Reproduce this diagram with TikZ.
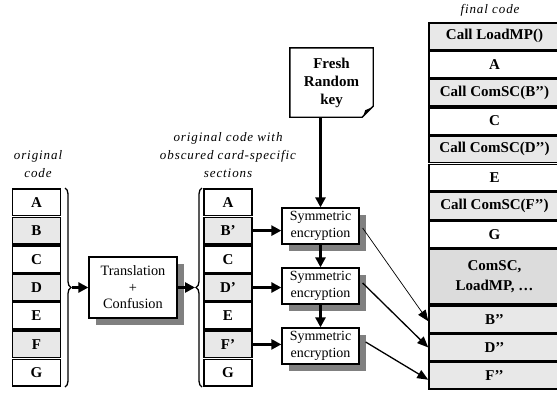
\documentclass[tikz,border=0pt]{standalone}
\usepackage{fontspec}
\setmainfont{Liberation Serif}
\newfontfamily\hdr[LetterSpace=7]{Liberation Serif}
\usetikzlibrary{arrows.meta,decorations.pathreplacing,shadows,calc}
\definecolor{cellgray}{HTML}{E8E8E8}
\definecolor{blockgray}{HTML}{DCDCDC}
\definecolor{shgray}{HTML}{808080}
\begin{document}
\begin{tikzpicture}[x=1pt,y=-1pt,
 cell/.style={draw, line width=1.5pt, minimum height=26.6pt, inner sep=0pt, font=\fontsize{15}{20}\selectfont\bfseries, align=center},
 lcell/.style={cell, minimum width=48pt},
 fcell/.style={cell, minimum width=131pt},
 gcell/.style={fill=cellgray},
 proc/.style={draw, line width=1.3pt, fill=white, align=center, inner sep=0pt, general shadow={fill=shgray, shadow xshift=7pt, shadow yshift=-7pt}},
 hdrtext/.style={font=\hdr\itshape\fontsize{13}{18}\selectfont, align=center, inner sep=0pt},
 bigarrow/.style={line width=3pt, -{Triangle[length=10pt,width=10pt]}},
 thinarrow/.style={line width=1.3pt, -{Triangle[length=11pt,width=9pt]}},
 bracestyle/.style={decorate, decoration={brace, amplitude=6pt}, line width=1.3pt},
]
\useasboundingbox (0,0) rectangle (557,392);

% headers
\node[hdrtext] (h1) at (38,164) {original\\code};
\node[hdrtext] (h2) at (228,155) {original code with\\obscured card-specific\\sections};
\node[hdrtext] (h3) at (490,10) {final code};

% left column
\node[lcell] (la) at (36.5,202.2) {A};
\node[lcell,gcell] (lb) at (36.5,230.6) {B};
\node[lcell] (lc) at (36.5,259.1) {C};
\node[lcell,gcell] (ld) at (36.5,287.5) {D};
\node[lcell] (le) at (36.5,315.9) {E};
\node[lcell,gcell] (lf) at (36.5,344.4) {F};
\node[lcell] (lg) at (36.5,372.8) {G};

% middle column
\node[lcell] (ma) at (228,202.2) {A};
\node[lcell,gcell] (mb) at (228,230.6) {B’};
\node[lcell] (mc) at (228,259.1) {C};
\node[lcell,gcell] (md) at (228,287.5) {D’};
\node[lcell] (me) at (228,315.9) {E};
\node[lcell,gcell] (mf) at (228,344.4) {F’};
\node[lcell] (mg) at (228,372.8) {G};

% braces
\draw[bracestyle] (65,188) -- (65,387);
\coordinate (lbt) at (72,287.5);
\draw[bracestyle] (202,387) -- (202,188);
\coordinate (mbt) at (195,287.5);

% translation
\node[proc, minimum width=88pt, minimum height=61pt, font=\fontsize{14.3}{16.5}\selectfont] (tr) at (133,287.5) {Translation\\+\\Confusion};
\draw[bigarrow] (lbt) -- (tr.west);
\draw[bigarrow] (tr.east) -- (mbt);

% symmetric encryption
\node[proc, minimum width=77pt, minimum height=36pt, font=\fontsize{14}{17.5}\selectfont] (s1) at (320.5,226) {Symmetric\\encryption};
\node[proc, minimum width=77pt, minimum height=36pt, font=\fontsize{14}{17.5}\selectfont] (s2) at (320.5,286) {Symmetric\\encryption};
\node[proc, minimum width=77pt, minimum height=36pt, font=\fontsize{14}{17.5}\selectfont] (s3) at (320.5,346) {Symmetric\\encryption};

\draw[bigarrow] (mb.east) -- (mb.east -| s1.west);
\draw[bigarrow] (md.east) -- (md.east -| s2.west);
\draw[bigarrow] (mf.east) -- (mf.east -| s3.west);
\draw[bigarrow] (s1.south) -- (s2.north);
\draw[bigarrow] (s2.south) -- (s3.north);

% key document
\node[inner sep=0pt, minimum width=83pt, minimum height=69pt, align=center, font=\fontsize{15}{18}\selectfont\bfseries] (key) at (331.5,82.5) {Fresh\\Random\\key};
\draw[line width=1.4pt, line join=miter] (key.north west) -- (key.north east) -- ($(key.south east)+(0,-11)$) -- ($(key.south east)+(-11,0)$) -- (key.south west) -- cycle;
\fill ($(key.south east)+(-1,-10)$) -- ($(key.south east)+(-8,-7)$) -- ($(key.south east)+(-10,-1)$) -- cycle;
\draw[bigarrow] (s1.north |- key.south) -- (s1.north);

% final column
\node[fcell,gcell] (f1) at (494.5,36.15) {Call LoadMP()};
\node[fcell] (f2) at (494.5,64.45) {A};
\node[fcell,gcell] (f3) at (494.5,92.75) {Call ComSC(B’’)};
\node[fcell] (f4) at (494.5,121.05) {C};
\node[fcell,gcell] (f5) at (494.5,149.35) {Call ComSC(D’’)};
\node[fcell] (f6) at (494.5,177.65) {E};
\node[fcell,gcell] (f7) at (494.5,205.95) {Call ComSC(F’’)};
\node[fcell] (f8) at (494.5,234.25) {G};
\node[fcell,fill=blockgray, minimum height=55pt] (f9) at (494.5,276.7) {ComSC,\\LoadMP, …};
\node[fcell,gcell] (fb) at (494.5,319.15) {B’’};
\node[fcell,gcell] (fd) at (494.5,347.45) {D’’};
\node[fcell,gcell] (ff) at (494.5,375.75) {F’’};

% arrows to final
\draw[thinarrow, line width=0.7pt] ($(s1.east)+(3,2)$) -- ($(fb.west)+(0,2)$);
\draw[thinarrow] ($(s2.east)+(3,-3)$) -- (fd.west);
\draw[thinarrow] ($(s3.east)+(6,-4)$) -- ($(ff.west)+(0,4)$);
\end{tikzpicture}
\end{document}
